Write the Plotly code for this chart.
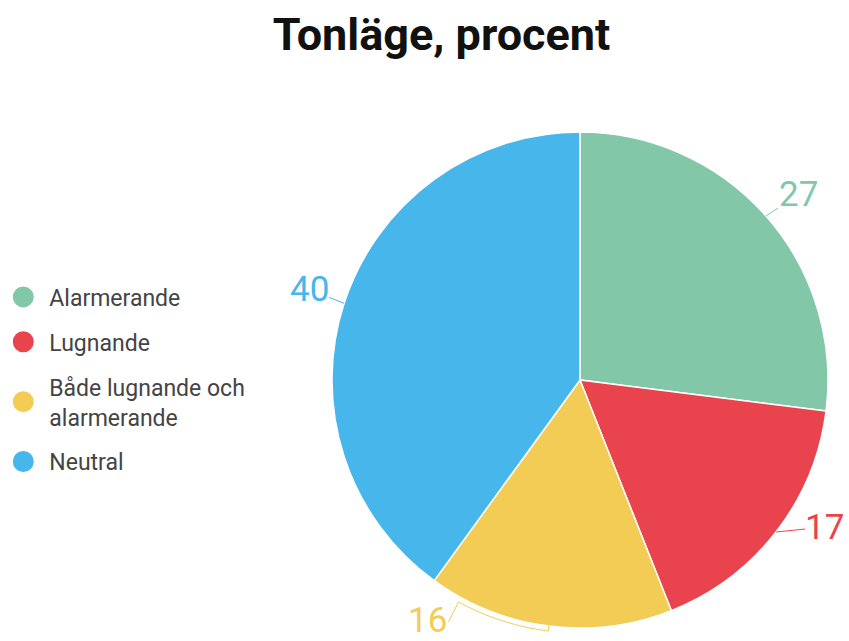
import math
import plotly.graph_objects as go

categories = ["Alarmerande", "Lugnande", "Både lugnande och<br>alarmerande", "Neutral"]
values = [27, 17, 16, 40]
colors = ["#82C8A8", "#E9444D", "#F2CC55", "#46B6EB"]

W, H = 849, 641
# pie geometry (pixels)
CX, CY, R = 580, 380, 248
# label offsets (pixels) relative to the slice edge point at mid angle
label_dx = [32, 49, None, -35]
label_dy = [-21, -5, None, -14]

fig = go.Figure()
fig.add_trace(go.Pie(
    labels=categories, values=values, sort=False, direction="clockwise", rotation=0,
    marker=dict(colors=colors, line=dict(color="white", width=1.5)),
    textinfo="none", showlegend=False, hoverinfo="label+value",
    domain=dict(x=[(CX - R) / W, (CX + R) / W], y=[1 - (CY + R) / H, 1 - (CY - R) / H]),
))
for i, (c, col) in enumerate(zip(categories, colors)):
    fig.add_trace(go.Scatter(
        x=[None], y=[None], mode="markers", name=c, legendgroup=str(i),
        marker=dict(symbol="circle", size=22, color=col, line=dict(color=col, width=5)),
    ))

def px2paper(x, y):
    return x / W, 1 - y / H

def edge(theta_deg, r):
    t = math.radians(theta_deg)
    return CX + r * math.sin(t), CY - r * math.cos(t)

total = sum(values)
cum = 0
annotations = []
shapes = []
for i, v in enumerate(values):
    start = cum / total * 360
    cum += v
    end = cum / total * 360
    mid = (start + end) / 2
    ex, ey = edge(mid, R)
    if label_dx[i] is not None:
        x, y = px2paper(ex, ey)
        annotations.append(dict(
            x=x, y=y, xref="paper", yref="paper", text=str(v), showarrow=True,
            ax=label_dx[i], ay=label_dy[i], arrowhead=0, arrowwidth=1, arrowcolor=colors[i],
            standoff=0, startstandoff=0, borderpad=0,
            font=dict(family="Roboto", size=35, color=colors[i]),
        ))
    else:
        # bracket following the arc, then a leg to the label
        a0, a1 = mid, mid + 21.5
        pts = [edge(mid, R - 3)]
        n = 20
        for k in range(n + 1):
            pts.append(edge(a0 + (a1 - a0) * k / n, R + 5))
        bx, by = pts[-1]
        lx, ly = bx - 10, by + 20
        pts.append((lx, ly))
        path = "M " + " L ".join(f"{px2paper(px, py)[0]:.5f},{px2paper(px, py)[1]:.5f}" for px, py in pts)
        shapes.append(dict(type="path", path=path, xref="paper", yref="paper",
                           line=dict(color=colors[i], width=1)))
        tx, ty = px2paper(lx - 21, ly - 1)
        annotations.append(dict(
            x=tx, y=ty, xref="paper", yref="paper", text=str(v), showarrow=False,
            xanchor="center", yanchor="middle",
            font=dict(family="Roboto", size=35, color=colors[i]),
        ))

fig.update_layout(
    width=W, height=H,
    margin=dict(l=0, r=0, t=0, b=0, autoexpand=False),
    paper_bgcolor="white", plot_bgcolor="white",
    title=dict(text="<b>Tonläge, procent</b>", x=0.52, xanchor="center", y=0.947, yanchor="middle",
               font=dict(family="Roboto", size=45, color="#111")),
    xaxis=dict(visible=False), yaxis=dict(visible=False),
    legend=dict(x=-0.0032, y=0.5703, xanchor="left", yanchor="top",
                font=dict(family="Roboto", size=23, color="#444"),
                tracegroupgap=12, itemsizing="trace", itemwidth=42),
    annotations=annotations, shapes=shapes,
    font=dict(family="Roboto"),
)
fig.write_html("out.html", config={"displayModeBar": False},
               post_script="document.body.style.margin='0';document.body.style.overflow='hidden';")
